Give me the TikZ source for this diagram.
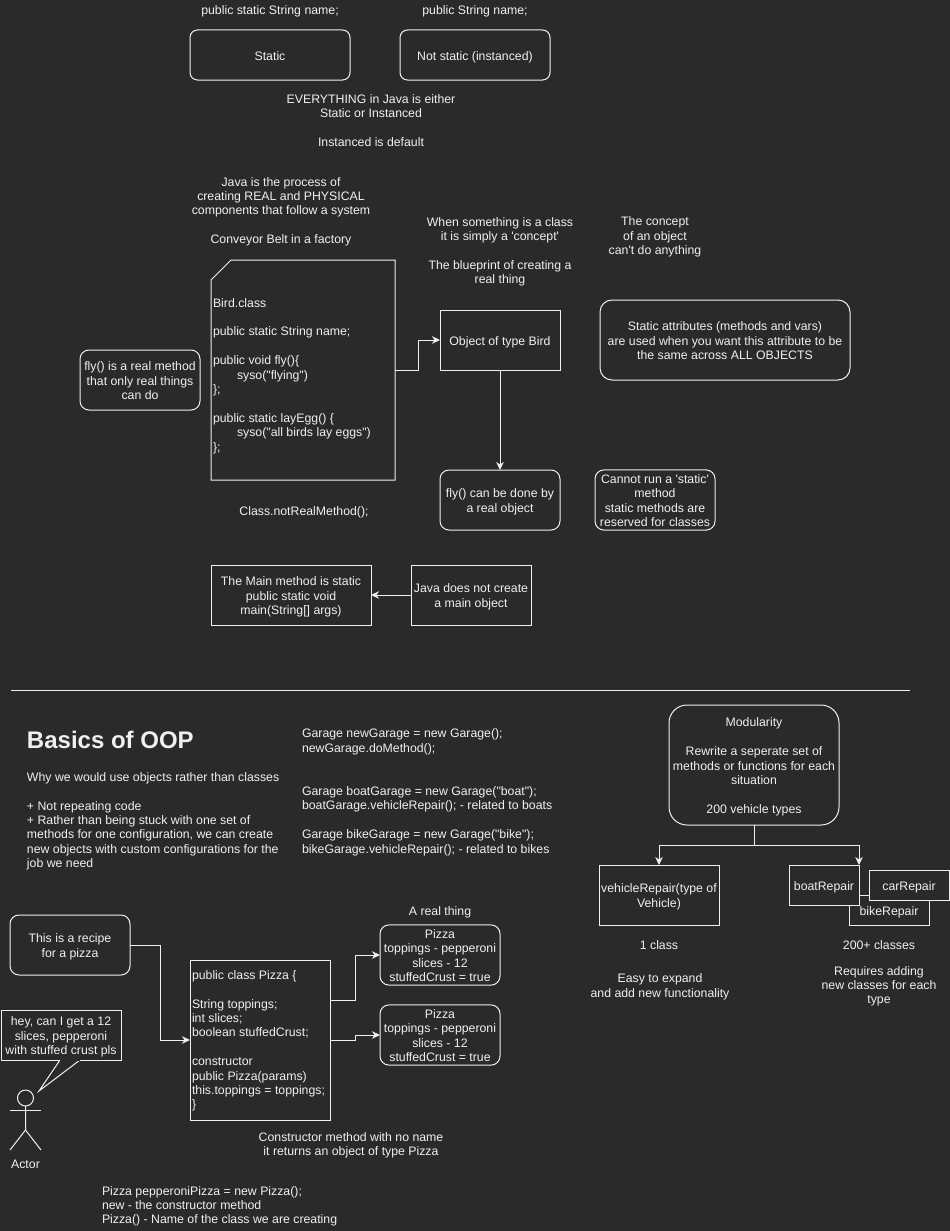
\documentclass[tikz,border=0pt]{standalone}
\usepackage{fontspec}
\setmainfont[Ligatures=TeXOff]{Liberation Sans}
\usetikzlibrary{arrows.meta}
\definecolor{bgdark}{HTML}{2A2A2A}
\definecolor{inkwhite}{HTML}{F0F0F0}
\newcommand{\topstrut}{\rule{0pt}{13.5pt}}
\tikzset{
  txt/.style={text=inkwhite,inner sep=0pt,outer sep=0pt,align=center,font=\fontsize{12.3}{14.4}\selectfont,
    execute at begin node={\topstrut},execute at end node={\rule[-3.5pt]{0pt}{0pt}}},
  lefttxt/.style={txt,align=left,anchor=west},
  titletxt/.style={lefttxt,font=\fontsize{24}{28}\selectfont\bfseries,execute at begin node={},execute at end node={}},
  box/.style={txt,draw=inkwhite,line width=1pt,fill=bgdark},
  roundbox/.style={box,rounded corners=#1},
  roundbox/.default=9pt,
  wire/.style={draw=inkwhite,line width=1pt},
  link/.style={wire,-{Stealth[length=8pt,width=7.5pt,inset=2.5pt]}}
}
\begin{document}
\begin{tikzpicture}[x=1pt,y=-1pt]
  \useasboundingbox[fill=bgdark] (0,0) rectangle (950,1231);
  % static vs instanced
  \node[txt] (staticDecl) at (270,10) {public static String name;};
  \node[txt] (instDecl) at (475,10) {public String name;};
  \node[roundbox=7.5pt,minimum width=160pt,minimum height=50pt] (staticBox) at (270,55) {Static};
  \node[roundbox=7.5pt,minimum width=150pt,minimum height=50pt] (instBox) at (475,55) {Not static (instanced)};
  \node[txt] (everything) at (371,105.5) {\topstrut EVERYTHING in Java is either\\Static or Instanced};
  \node[txt] (instDefault) at (371,141) {Instanced is default};
  \node[txt] (javaProcess) at (281,195.5) {\topstrut Java is the process of\\creating REAL and PHYSICAL\\components that follow a system};
  \node[txt] (conveyor) at (281,238) {Conveyor Belt in a factory};
  \node[txt] (classConcept) at (500,250) {\topstrut When something is a class\\it is simply a 'concept'\\[14.4pt]The blueprint of creating a\\real thing};
  \node[txt] (objConcept) at (655,235) {\topstrut The concept\\of an object\\can't do anything};
  % bird class
  \node[minimum width=184pt,minimum height=220pt,inner sep=0pt,outer sep=0pt] (birdClass) at (303,370) {};
  \draw[wire] ([yshift=-20pt]birdClass.north west) -- ([xshift=20pt]birdClass.north west)
    -- (birdClass.north east) -- (birdClass.south east) -- (birdClass.south west) -- cycle;
  \node[lefttxt] (birdCode) at (213,374) {\topstrut Bird.class\\[14.4pt]public static String name;\\[14.4pt]public void fly()\{\\\hspace*{24pt}syso("flying")\\\};\\[14.4pt]public static layEgg() \{\\\hspace*{24pt}syso("all birds lay eggs")\\\};};
  \node[box,minimum width=120pt,minimum height=60pt] (birdObject) at (500,340) {Object of type Bird};
  \node[roundbox,minimum width=120pt,minimum height=60pt] (flyNote) at (140,380) {\topstrut fly() is a real method\\that only real things\\can do};
  \node[roundbox=12pt,minimum width=250pt,minimum height=80pt] (staticAttrs) at (725,340) {\topstrut Static attributes (methods and vars)\\are used when you want this attribute to be\\the same across ALL OBJECTS};
  \node[roundbox,minimum width=120pt,minimum height=60pt] (flyObject) at (500,500) {\topstrut fly() can be done by\\a real object};
  \node[roundbox,minimum width=120pt,minimum height=60pt] (noStatic) at (655,500) {\topstrut Cannot run a 'static'\\method\\static methods are\\reserved for classes};
  \node[txt] (notReal) at (304,510) {Class.notRealMethod();};
  \node[box,minimum width=160pt,minimum height=60pt] (mainStatic) at (291,595) {\topstrut The Main method is static\\public static void\\main(String[] args)};
  \node[box,minimum width=120pt,minimum height=60pt] (noMainObj) at (471,595) {\topstrut Java does not create\\a main object};
  \draw[link] (birdClass.east) -- ++(23,0) |- (birdObject.west);
  \draw[link] (birdObject) to (flyObject);
  \draw[link] (noMainObj) to (mainStatic);
  % divider
  \coordinate (ruleLeft) at (11,690);
  \coordinate (ruleRight) at (910,690);
  \draw[wire,line width=0.8pt] (ruleLeft) -- (ruleRight);
  % basics of oop
  \node[titletxt] (basicsTitle) at (27,741.5) {Basics of OOP};
  \node[lefttxt] (whyObjects) at (27,819.5) {\topstrut Why we would use objects rather than classes\\[14.4pt]+ Not repeating code\\+ Rather than being stuck with one set of\\methods for one configuration, we can create\\new objects with custom configurations for the\\job we need};
  \node[lefttxt] (garageCode) at (302,790.5) {\topstrut Garage newGarage = new Garage();\\newGarage.doMethod();\\[28.8pt]Garage boatGarage = new Garage("boat");\\boatGarage.vehicleRepair(); - related to boats\\[14.4pt]Garage bikeGarage = new Garage("bike");\\bikeGarage.vehicleRepair(); - related to bikes};
  % modularity
  \node[roundbox=18pt,minimum width=170pt,minimum height=120pt] (modularity) at (754,765) {\topstrut Modularity\\[14.4pt]Rewrite a seperate set of\\methods or functions for each\\situation\\[14.4pt]200 vehicle types};
  \node[box,minimum width=120pt,minimum height=60pt] (vehicleRepair) at (659,895) {\topstrut vehicleRepair(type of\\Vehicle)};
  \node[box,minimum width=80pt,minimum height=30pt] (bikeRepair) at (889,910) {bikeRepair};
  \node[box,minimum width=70pt,minimum height=40pt] (boatRepair) at (824,885) {boatRepair};
  \node[box,minimum width=80pt,minimum height=30pt] (carRepair) at (909,885) {carRepair};
  \draw[link] (modularity.south) -- ++(0,20) -| (vehicleRepair.north);
  \draw[link] (modularity.south) -- ++(0,20) -| (boatRepair.north east);
  \node[txt] (oneClass) at (659,944.5) {1 class};
  \node[txt] (easyExpand) at (660,985) {\topstrut Easy to expand\\and add new functionality};
  \node[txt] (manyClasses) at (879,944.5) {200+ classes};
  \node[txt] (addClasses) at (879,984.5) {\topstrut Requires adding\\new classes for each\\type};
  % pizza
  \node[roundbox,minimum width=120pt,minimum height=60pt] (recipe) at (70,945) {\topstrut This is a recipe\\for a pizza};
  \node[box,minimum width=140pt,minimum height=160pt] (pizzaClass) at (260,1040) {};
  \node[lefttxt] (pizzaCode) at (192,1039) {\topstrut public class Pizza \{\\[14.4pt]String toppings;\\int slices;\\boolean stuffedCrust;\\[14.4pt]constructor\\public Pizza(params)\\this.toppings = toppings;\\\}};
  \node[txt] (realThing) at (440,910.5) {A real thing};
  \node[roundbox,minimum width=120pt,minimum height=60pt] (pizzaOne) at (440,955) {\topstrut Pizza\\toppings - pepperoni\\slices - 12\\stuffedCrust = true};
  \node[roundbox,minimum width=120pt,minimum height=60pt] (pizzaTwo) at (440,1035) {\topstrut Pizza\\toppings - pepperoni\\slices - 12\\stuffedCrust = true};
  \draw[link] (recipe.east) -- ++(30,0) |- (pizzaClass.west);
  \draw[link] ([yshift=40pt]pizzaClass.east) -- ++(25,0) |- (pizzaOne.west);
  \draw[link] (pizzaClass.east) -- ++(25,0) |- (pizzaTwo.west);
  \node[txt] (ctorNote) at (351,1143.5) {\topstrut Constructor method with no name\\it returns an object of type Pizza};
  \node[lefttxt] (newNote) at (102,1204.5) {\topstrut Pizza pepperoniPizza = new Pizza();\\new - the constructor method\\Pizza() - Name of the class we are creating};
  % actor and speech bubble
  \node[box,minimum width=120pt,minimum height=50pt] (speech) at (61,1035) {\topstrut hey, can I get a 12\\slices, pepperoni\\with stuffed crust pls};
  \coordinate (tailTip) at (39,1091);
  \draw[wire] ([xshift=-1pt]speech.south) -- (tailTip) -- ([xshift=19pt]speech.south);
  \draw[fill=bgdark,draw=bgdark] ([xshift=-0.5pt,yshift=0.5pt]speech.south) rectangle ([xshift=18.5pt,yshift=-0.5pt]speech.south);
  \node[circle,draw=inkwhite,line width=1pt,minimum size=16pt,inner sep=0pt,outer sep=0pt] (actorHead) at (25.5,1098) {};
  \coordinate (actorHip) at (25.5,1130);
  \coordinate (armLeft) at (10,1110);
  \coordinate (armRight) at (41,1110);
  \coordinate (legLeft) at (10,1150);
  \coordinate (legRight) at (41,1150);
  \draw[wire] (actorHead.south) -- (actorHip) -- (legLeft);
  \draw[wire] (actorHip) -- (legRight);
  \draw[wire] (armLeft) -- (armRight);
  \node[txt] (actorName) at (25.5,1163) {Actor};
\end{tikzpicture}
\end{document}
